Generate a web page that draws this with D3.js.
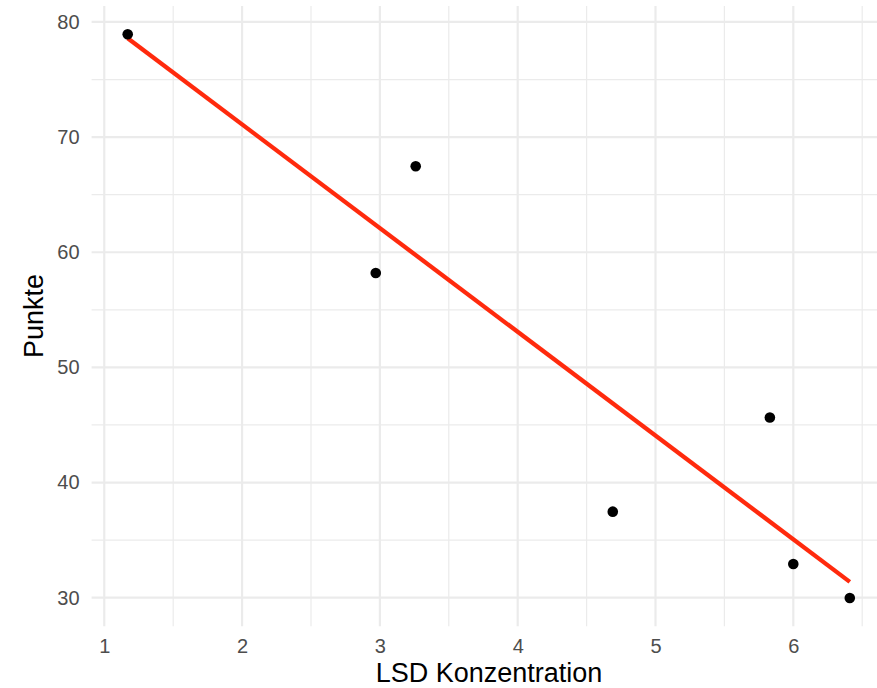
<!DOCTYPE html>
<html lang="de">
<head>
    <meta charset="UTF-8">
    <title>lsd-punkte</title>
    <style>
        body {
            margin: 0;
            font-family: "Liberation Sans", Arial, Helvetica, sans-serif;
            background: #fff;
        }
    </style>
    <script src="https://d3js.org/d3.v7.min.js"></script>
</head>
<body>

<script>

    // LSD-Daten
    let konzentration = [1.17, 2.97, 3.26, 4.69, 5.83, 6.00, 6.41];
    let punkte = [78.93, 58.20, 67.47, 37.47, 45.65, 32.92, 29.97];
    let xTicks = [1, 2, 3, 4, 5, 6];
    let yTicks = [30, 40, 50, 60, 70, 80];

    let width = 877;
    let height = 688;
    let gridColor = "#ebebeb";
    let lineColor = "#ff2a0d";

    let svg = d3.select("body").append("svg")
        .attr("width", width)
        .attr("height", height);

    // ggplot-artige Erweiterung um 5 %
    let xMin = d3.min(konzentration), xMax = d3.max(konzentration);
    let yMin = d3.min(punkte), yMax = d3.max(punkte);
    let xPad = (xMax - xMin) * 0.05, yPad = (yMax - yMin) * 0.05;

    let x = d3.scaleLinear()
        .domain([xMin - xPad, xMax + xPad])
        .range([91.6, 885.9]);

    let y = d3.scaleLinear()
        .domain([yMin - yPad, yMax + yPad])
        .range([626.2, 6.1]);

    let [x0, x1] = x.range();
    let [y0, y1] = y.range();

    // Nebengitter
    let xMinor = d3.range(0.5, 7, 1).filter(v => x(v) >= x0 && x(v) <= x1);
    let yMinor = d3.range(25, 90, 10).filter(v => y(v) <= y0 && y(v) >= y1);

    let grid = svg.append("g");
    grid.selectAll(".xminor").data(xMinor).enter().append("line")
        .attr("x1", d => x(d)).attr("x2", d => x(d))
        .attr("y1", y0).attr("y2", y1)
        .attr("stroke", gridColor).attr("stroke-width", 1.2);
    grid.selectAll(".yminor").data(yMinor).enter().append("line")
        .attr("y1", d => y(d)).attr("y2", d => y(d))
        .attr("x1", x0).attr("x2", x1)
        .attr("stroke", gridColor).attr("stroke-width", 1.2);

    // Hauptgitter
    grid.selectAll(".xmajor").data(xTicks).enter().append("line")
        .attr("x1", d => x(d)).attr("x2", d => x(d))
        .attr("y1", y0).attr("y2", y1)
        .attr("stroke", gridColor).attr("stroke-width", 2.2);
    grid.selectAll(".ymajor").data(yTicks).enter().append("line")
        .attr("y1", d => y(d)).attr("y2", d => y(d))
        .attr("x1", x0).attr("x2", x1)
        .attr("stroke", gridColor).attr("stroke-width", 2.2);

    // Achsen (nur Beschriftungen)
    let xAxis = svg.append("g")
        .attr("transform", "translate(0," + y0 + ")")
        .call(d3.axisBottom(x).tickValues(xTicks).tickFormat(d3.format("d")).tickSize(0).tickPadding(13));
    let yAxis = svg.append("g")
        .attr("transform", "translate(" + x0 + ",0)")
        .call(d3.axisLeft(y).tickValues(yTicks).tickFormat(d3.format("d")).tickSize(0).tickPadding(12));

    [xAxis, yAxis].forEach(function (a) {
        a.select(".domain").remove();
        a.selectAll("text")
            .attr("fill", "#4d4d4d")
            .style("font-size", "20px")
            .style("font-family", "\"Liberation Sans\", Arial, sans-serif");
    });

    // Regressionsgerade
    let mx = d3.mean(konzentration), my = d3.mean(punkte);
    let sxy = d3.sum(konzentration, (v, i) => (v - mx) * (punkte[i] - my));
    let sxx = d3.sum(konzentration, v => (v - mx) * (v - mx));
    let slope = sxy / sxx;
    let intercept = my - slope * mx;

    let fit = [xMin, xMax].map(v => [v, intercept + slope * v]);

    svg.append("path")
        .datum(fit)
        .attr("d", d3.line().x(d => x(d[0])).y(d => y(d[1])))
        .attr("fill", "none")
        .attr("stroke", lineColor)
        .attr("stroke-width", 4.3);

    // Punkte
    svg.append("g")
        .selectAll("circle")
        .data(konzentration)
        .enter()
        .append("circle")
        .attr("cx", d => x(d))
        .attr("cy", (d, i) => y(punkte[i]))
        .attr("r", 5.3)
        .attr("fill", "#000");

    // Achsentitel
    svg.append("text")
        .attr("x", 489)
        .attr("y", 682)
        .attr("text-anchor", "middle")
        .style("font-size", "27px")
        .text("LSD Konzentration");

    svg.append("text")
        .attr("transform", "translate(43,316) rotate(-90)")
        .attr("text-anchor", "middle")
        .style("font-size", "27px")
        .text("Punkte");

</script>

</body>
</html>
